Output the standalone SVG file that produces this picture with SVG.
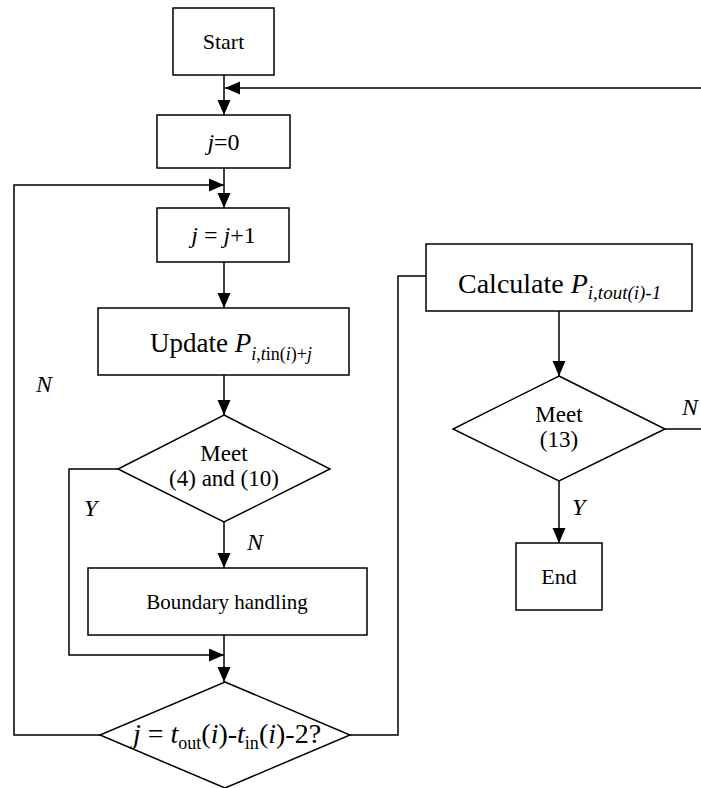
<svg xmlns="http://www.w3.org/2000/svg" width="701" height="788" viewBox="0 0 701 788">
<defs>
<marker id="ah" markerUnits="userSpaceOnUse" markerWidth="16" markerHeight="14" refX="15" refY="6.5" orient="auto">
<path d="M0,0 L15,6.5 L0,13 Z" fill="#000"/>
</marker>
<style>
.box{fill:#fff;stroke:#000;stroke-width:1.5}
.ln{fill:none;stroke:#000;stroke-width:1.5}
.arr{fill:none;stroke:#000;stroke-width:1.5;marker-end:url(#ah)}
text{font-family:"Liberation Serif","Times New Roman",serif;fill:#000}
.it{font-style:italic}
.lbl{font-style:italic;font-size:24px}
</style>
</defs>
<rect width="701" height="788" fill="#fff"/>
<g id="connectors">
<path class="arr" d="M224,75 V115"/>
<path class="arr" d="M701,88 H225"/>
<path class="arr" d="M224,168 V208"/>
<path class="arr" d="M100,735 H14 V185 H224"/>
<path class="arr" d="M224,262 V308"/>
<path class="arr" d="M224,375 V415"/>
<path class="arr" d="M224,522 V568"/>
<path class="arr" d="M118,469 H69 V655 H224"/>
<path class="arr" d="M224,635 V682"/>
<path class="ln" d="M350,735 H398 V276 H426"/>
<path class="arr" d="M559,311 V376"/>
<path class="ln" d="M665,429 H701"/>
<path class="arr" d="M559,481 V543"/>
</g>
<g id="start">
<rect class="box" x="173" y="8" width="101" height="67"/>
<text x="223.5" y="49" font-size="22" text-anchor="middle">Start</text>
</g>
<g id="j0">
<rect class="box" x="157" y="115" width="133" height="53"/>
<text x="223.5" y="150" font-size="24" text-anchor="middle"><tspan class="it">j</tspan>=0</text>
</g>
<g id="jinc">
<rect class="box" x="157" y="208" width="132" height="54"/>
<text x="223.5" y="243" font-size="24" text-anchor="middle"><tspan class="it">j</tspan> = <tspan class="it">j</tspan>+1</text>
</g>
<g id="update">
<rect class="box" x="98" y="308" width="251" height="67"/>
<text x="150" y="352" font-size="27">Update <tspan class="it">P</tspan><tspan font-size="18" dy="8"><tspan class="it">i</tspan>,<tspan class="it">t</tspan>in(<tspan class="it">i</tspan>)+<tspan class="it">j</tspan></tspan></text>
</g>
<g id="meet1">
<polygon class="box" points="224,415 330,469 224,522 118,469"/>
<text x="224" y="461" font-size="23" text-anchor="middle">Meet</text>
<text x="224" y="486" font-size="23" text-anchor="middle">(4) and (10)</text>
</g>
<g id="boundary">
<rect class="box" x="88" y="568" width="279" height="67"/>
<text x="227" y="609" font-size="21" text-anchor="middle">Boundary handling</text>
</g>
<g id="check">
<polygon class="box" points="225,682 350,735 225,788 100,735"/>
<text x="227" y="743" font-size="28" text-anchor="middle"><tspan class="it">j</tspan> = <tspan class="it">t</tspan><tspan font-size="18" dy="6">out</tspan><tspan dy="-6">(</tspan><tspan class="it">i</tspan>)-<tspan class="it">t</tspan><tspan font-size="18" dy="6">in</tspan><tspan dy="-6">(</tspan><tspan class="it">i</tspan>)-2?</text>
</g>
<g id="calculate">
<rect class="box" x="426" y="244" width="266" height="67"/>
<text x="458" y="293" font-size="28">Calculate <tspan class="it">P</tspan><tspan class="it" font-size="19" dy="6">i,tout(i)-1</tspan></text>
</g>
<g id="meet2">
<polygon class="box" points="559,376 665,429 559,481 453,429"/>
<text x="559" y="422" font-size="23" text-anchor="middle">Meet</text>
<text x="559" y="447" font-size="23" text-anchor="middle">(13)</text>
</g>
<g id="end">
<rect class="box" x="516" y="543" width="86" height="67"/>
<text x="559" y="584" font-size="22" text-anchor="middle">End</text>
</g>
<g id="labels">
<text class="lbl" x="36" y="392">N</text>
<text class="lbl" x="84" y="516">Y</text>
<text class="lbl" x="247" y="550">N</text>
<text class="lbl" x="682" y="415">N</text>
<text class="lbl" x="572" y="515">Y</text>
</g>
</svg>
